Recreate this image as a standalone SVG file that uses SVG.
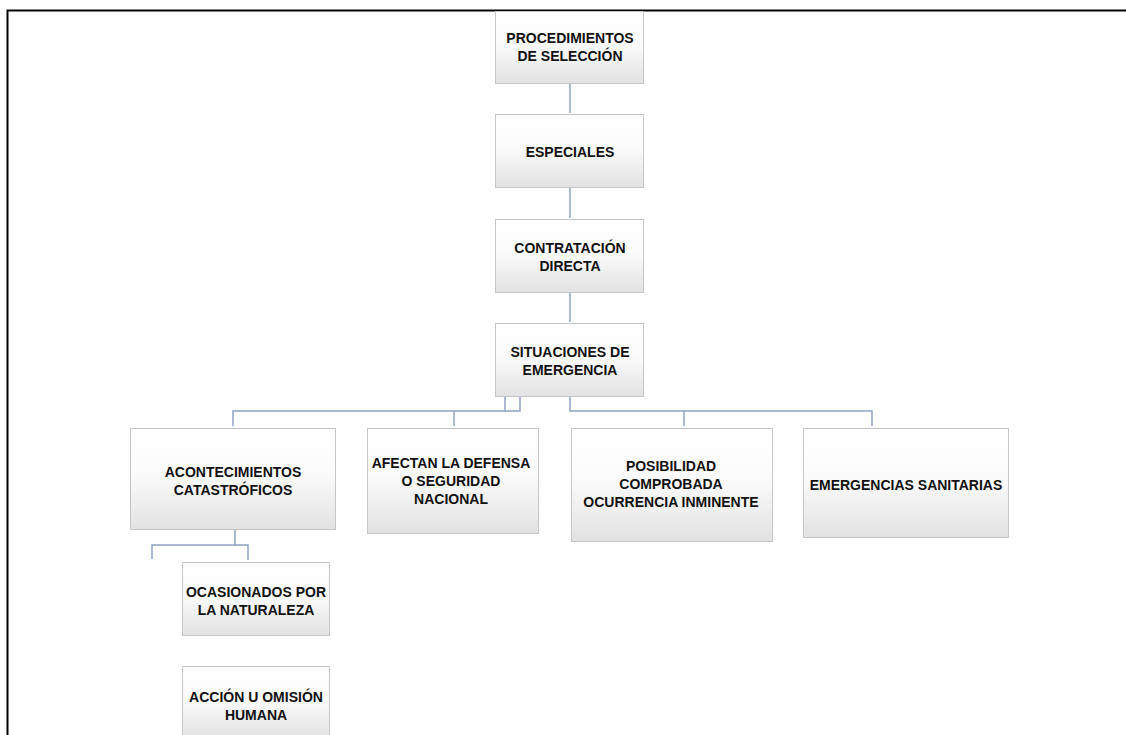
<svg xmlns="http://www.w3.org/2000/svg" width="1126" height="735" viewBox="0 0 1126 735">
<defs>
<linearGradient id="g" x1="0" y1="0" x2="0" y2="1">
<stop offset="0" stop-color="#ffffff"/>
<stop offset="0.45" stop-color="#fbfbfb"/>
<stop offset="1" stop-color="#e2e2e2"/>
</linearGradient>
<style>
.box{fill:url(#g);stroke:#c6c6c6;stroke-width:1}
.t{font-family:"Liberation Sans",Arial,sans-serif;font-weight:bold;font-size:14px;fill:#111;text-anchor:middle}
.c{fill:none;stroke:#8ea3c2;stroke-width:1.5}
</style>
</defs>
<rect x="0" y="0" width="1126" height="735" fill="#ffffff"/>
<path d="M7.5,735 V10.5 H1126" fill="none" stroke="#000" stroke-width="2"/>
<g id="connectors">
<path class="c" d="M570,84 V113"/>
<path class="c" d="M570,188 V218"/>
<path class="c" d="M570,293 V322"/>
<path class="c" d="M505,397 V411 H233 V426"/>
<path class="c" d="M520,397 V411 H505"/>
<path class="c" d="M454,411 V426"/>
<path class="c" d="M570,397 V411 H872 V426"/>
<path class="c" d="M684,411 V426"/>
<path class="c" d="M235,530 V545 H152 V559"/>
<path class="c" d="M235,545 H248 V560"/>
</g>
<g id="n1"><rect class="box" x="495.5" y="11.5" width="148" height="72"/>
<text class="t" x="570" y="43">PROCEDIMIENTOS</text><text class="t" x="570" y="61">DE SELECCIÓN</text></g>
<g id="n2"><rect class="box" x="495.5" y="114.5" width="148" height="73"/>
<text class="t" x="570" y="157">ESPECIALES</text></g>
<g id="n3"><rect class="box" x="495.5" y="219.5" width="148" height="73"/>
<text class="t" x="570" y="253">CONTRATACIÓN</text><text class="t" x="570" y="271">DIRECTA</text></g>
<g id="n4"><rect class="box" x="495.5" y="323.5" width="148" height="73"/>
<text class="t" x="570" y="357">SITUACIONES DE</text><text class="t" x="570" y="375">EMERGENCIA</text></g>
<g id="n5"><rect class="box" x="130.5" y="428.5" width="205" height="101"/>
<text class="t" x="233" y="477">ACONTECIMIENTOS</text><text class="t" x="233" y="495">CATASTRÓFICOS</text></g>
<g id="n6"><rect class="box" x="367.5" y="428.5" width="171" height="105"/>
<text class="t" x="451" y="468">AFECTAN LA DEFENSA</text><text class="t" x="451" y="486">O SEGURIDAD</text><text class="t" x="451" y="504">NACIONAL</text></g>
<g id="n7"><rect class="box" x="571.5" y="428.5" width="201" height="113"/>
<text class="t" x="671" y="471">POSIBILIDAD</text><text class="t" x="671" y="489">COMPROBADA</text><text class="t" x="671" y="507">OCURRENCIA INMINENTE</text></g>
<g id="n8"><rect class="box" x="803.5" y="428.5" width="205" height="109"/>
<text class="t" x="906" y="490">EMERGENCIAS SANITARIAS</text></g>
<g id="n9"><rect class="box" x="182.5" y="562.5" width="147" height="73"/>
<text class="t" x="256" y="597">OCASIONADOS POR</text><text class="t" x="256" y="615">LA NATURALEZA</text></g>
<g id="n10"><rect class="box" x="182.5" y="666.5" width="147" height="73"/>
<text class="t" x="256" y="702">ACCIÓN U OMISIÓN</text><text class="t" x="256" y="720">HUMANA</text></g>
</svg>
